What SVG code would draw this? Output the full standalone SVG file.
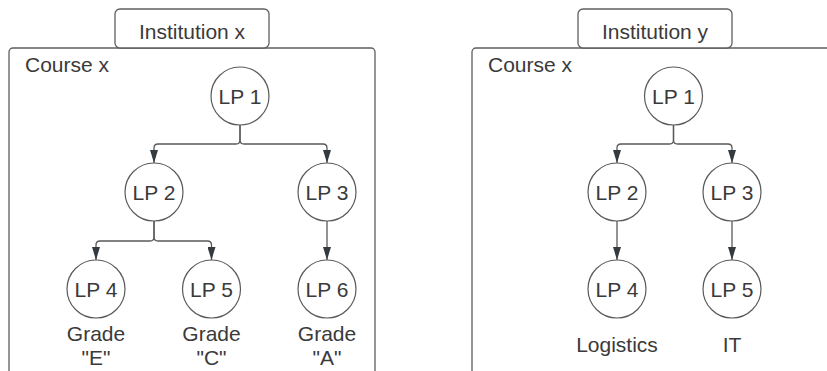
<svg xmlns="http://www.w3.org/2000/svg" width="827" height="371" viewBox="0 0 827 371">
<style>
.frame{fill:#fff;stroke:#5f5f5f;stroke-width:1.3}
.node{fill:#fff;stroke:#5a5a5a;stroke-width:1.2}
.t{font-family:"Liberation Sans",Arial,sans-serif;font-size:21px;fill:#3a3a3a}
.c{text-anchor:middle}
.edge{fill:none;stroke:#5a5a5a;stroke-width:1.3}
</style>
<defs>
<marker id="arr" viewBox="0 0 13 8" refX="13" refY="4" markerWidth="13" markerHeight="8" markerUnits="userSpaceOnUse" orient="auto">
<path d="M0,0 L13,4 L0,8 z" fill="#333a40"/>
</marker>
</defs>
<rect width="827" height="371" fill="#fff"/>

<g id="course-left">
<rect class="frame" x="9" y="48" width="366" height="340" rx="4"/>
<text class="t" x="25" y="72">Course x</text>
</g>
<g id="institution-x">
<rect class="frame" x="115" y="9" width="154" height="39" rx="5"/>
<text class="t c" x="192" y="39">Institution x</text>
</g>
<g id="course-right">
<rect class="frame" x="472" y="48" width="400" height="340" rx="4"/>
<text class="t" x="488" y="72">Course x</text>
</g>
<g id="institution-y">
<rect class="frame" x="578" y="9" width="154" height="39" rx="5"/>
<text class="t c" x="655" y="39">Institution y</text>
</g>

<g id="connectors">
<path class="edge" marker-end="url(#arr)" d="M240,125 V140 Q240,144 236,144 H158 Q154,144 154,148 V163"/>
<path class="edge" marker-end="url(#arr)" d="M240,125 V140 Q240,144 244,144 H323 Q327,144 327,148 V163"/>
<path class="edge" marker-end="url(#arr)" d="M154,221 V237 Q154,241 150,241 H100 Q96,241 96,245 V260"/>
<path class="edge" marker-end="url(#arr)" d="M154,221 V237 Q154,241 158,241 H207.5 Q211.5,241 211.5,245 V260"/>
<path class="edge" marker-end="url(#arr)" d="M327,221 V260"/>
<path class="edge" marker-end="url(#arr)" d="M673.5,125 V140 Q673.5,144 669.5,144 H621 Q617,144 617,148 V163"/>
<path class="edge" marker-end="url(#arr)" d="M673.5,125 V140 Q673.5,144 677.5,144 H728 Q732,144 732,148 V163"/>
<path class="edge" marker-end="url(#arr)" d="M617,221 V260"/>
<path class="edge" marker-end="url(#arr)" d="M732,221 V260"/>
</g>

<g id="x-lp1"><circle class="node" cx="240" cy="96" r="29"/><text class="t c" x="240" y="103.5">LP 1</text></g>
<g id="x-lp2"><circle class="node" cx="154" cy="192" r="29"/><text class="t c" x="154" y="199.5">LP 2</text></g>
<g id="x-lp3"><circle class="node" cx="327" cy="192" r="29"/><text class="t c" x="327" y="199.5">LP 3</text></g>
<g id="x-lp4"><circle class="node" cx="96" cy="289" r="29"/><text class="t c" x="96" y="296.5">LP 4</text>
<text class="t c" x="96" y="341">Grade</text><text class="t c" x="96" y="365">"E"</text></g>
<g id="x-lp5"><circle class="node" cx="211.5" cy="289" r="29"/><text class="t c" x="211.5" y="296.5">LP 5</text>
<text class="t c" x="211.5" y="341">Grade</text><text class="t c" x="211.5" y="365">"C"</text></g>
<g id="x-lp6"><circle class="node" cx="327" cy="289" r="29"/><text class="t c" x="327" y="296.5">LP 6</text>
<text class="t c" x="327" y="341">Grade</text><text class="t c" x="327" y="365">"A"</text></g>

<g id="y-lp1"><circle class="node" cx="673.5" cy="96" r="29"/><text class="t c" x="673.5" y="103.5">LP 1</text></g>
<g id="y-lp2"><circle class="node" cx="617" cy="192" r="29"/><text class="t c" x="617" y="199.5">LP 2</text></g>
<g id="y-lp3"><circle class="node" cx="732" cy="192" r="29"/><text class="t c" x="732" y="199.5">LP 3</text></g>
<g id="y-lp4"><circle class="node" cx="617" cy="289" r="29"/><text class="t c" x="617" y="296.5">LP 4</text>
<text class="t c" x="617" y="352">Logistics</text></g>
<g id="y-lp5"><circle class="node" cx="732" cy="289" r="29"/><text class="t c" x="732" y="296.5">LP 5</text>
<text class="t c" x="732" y="352">IT</text></g>
</svg>
